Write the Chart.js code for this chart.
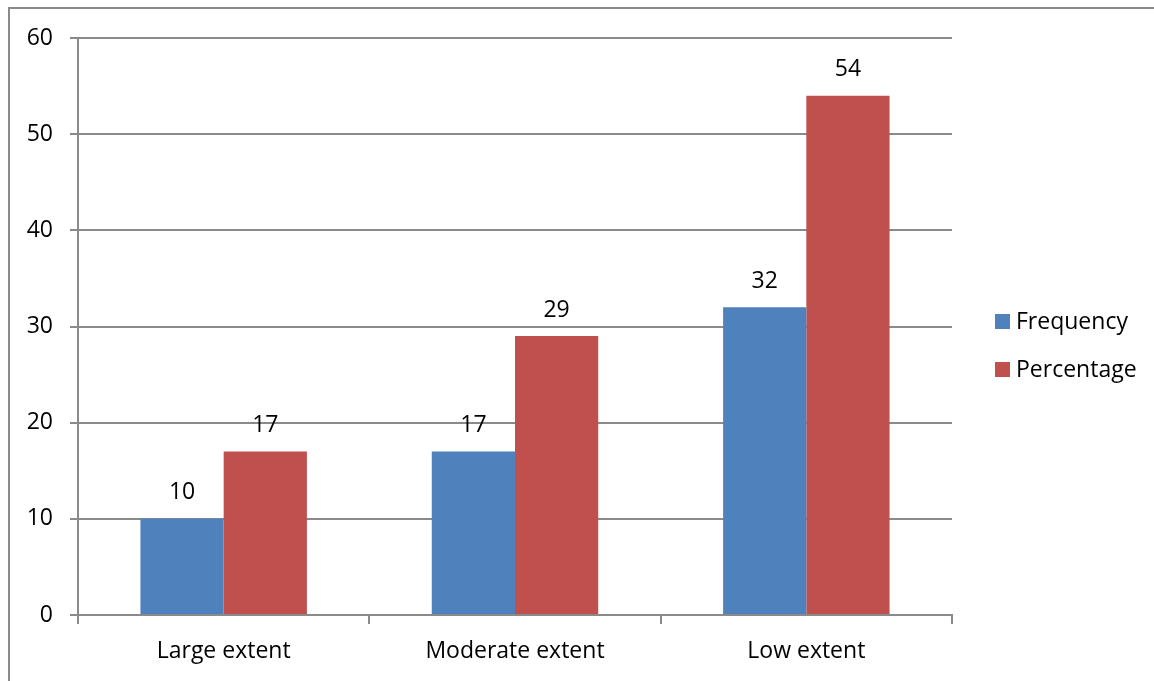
<!DOCTYPE html>
<html>
<head>
<meta charset="utf-8">
<script src="https://cdn.jsdelivr.net/npm/chart.js@4"></script>
<style>
html,body{margin:0;padding:0;background:#fff;}
#wrap{width:1154px;height:681px;position:relative;}
</style>
</head>
<body>
<div id="wrap"><canvas id="c" width="1154" height="681"></canvas></div>
<script>
const categories = ["Large extent", "Moderate extent", "Low extent"];
const seriesNames = ["Frequency", "Percentage"];
const frequency = [10, 17, 32];
const percentage = [17, 29, 54];
const yTicks = [0, 10, 20, 30, 40, 50, 60];
const colors = ["#4F81BD", "#C0504D"];

const FONT = "'Open Sans', 'Liberation Sans', sans-serif";
const FS = 23;

const frame = {
  id: 'frame',
  beforeDraw(chart) {
    const ctx = chart.ctx;
    ctx.save();
    ctx.fillStyle = '#fff';
    ctx.fillRect(0, 0, chart.width, chart.height);
    ctx.strokeStyle = '#8a8a8a';
    ctx.lineWidth = 2;
    ctx.beginPath();
    ctx.moveTo(9, chart.height);
    ctx.lineTo(9, 8);
    ctx.lineTo(chart.width, 8);
    ctx.stroke();
    ctx.restore();
  }
};

const valueLabels = {
  id: 'valueLabels',
  afterDatasetsDraw(chart) {
    const ctx = chart.ctx;
    ctx.save();
    ctx.font = FS + 'px ' + FONT;
    ctx.fillStyle = '#000';
    ctx.textAlign = 'center';
    ctx.textBaseline = 'middle';
    chart.data.datasets.forEach((ds, di) => {
      const meta = chart.getDatasetMeta(di);
      meta.data.forEach((bar, i) => {
        ctx.fillText(String(ds.data[i]), bar.x, bar.y - 26);
      });
    });
    ctx.restore();
  }
};

const customLegend = {
  id: 'customLegend',
  afterDraw(chart) {
    const ctx = chart.ctx;
    ctx.save();
    ctx.font = FS + 'px ' + FONT;
    ctx.textBaseline = 'middle';
    ctx.textAlign = 'left';
    const ys = [322, 370];
    chart.data.datasets.forEach((ds, di) => {
      const y = ys[di];
      ctx.fillStyle = ds.backgroundColor;
      ctx.fillRect(995, y - 8, 15, 15);
      ctx.fillStyle = '#000';
      ctx.fillText(ds.label, 1016, y);
    });
    ctx.restore();
  }
};

new Chart(document.getElementById('c'), {
  type: 'bar',
  data: {
    labels: categories,
    datasets: [
      { label: seriesNames[0], data: frequency, backgroundColor: colors[0] },
      { label: seriesNames[1], data: percentage, backgroundColor: colors[1] }
    ]
  },
  options: {
    responsive: false,
    animation: false,
    devicePixelRatio: 1,
    layout: { padding: { top: 38, right: 202, bottom: 0, left: 0 } },
    plugins: { legend: { display: false }, tooltip: { enabled: false } },
    datasets: { bar: { categoryPercentage: 0.5714, barPercentage: 1.0 } },
    scales: {
      x: {
        grid: { display: true, drawOnChartArea: false, offset: true, color: '#8a8a8a', lineWidth: 2, tickLength: 9 },
        border: { display: true, color: '#8a8a8a', width: 2 },
        ticks: { color: '#000', font: { family: FONT, size: FS }, padding: 14 },
        afterFit(scale) { scale.height = 66; }
      },
      y: {
        min: 0, max: 60,
        afterBuildTicks(scale) { scale.ticks = yTicks.map(v => ({ value: v })); },
        grid: { color: '#8a8a8a', lineWidth: 2, tickLength: 8 },
        border: { display: true, color: '#8a8a8a', width: 2 },
        ticks: { color: '#000', font: { family: FONT, size: FS }, padding: 17 },
        afterFit(scale) { scale.width = 78; }
      }
    }
  },
  plugins: [frame, valueLabels, customLegend]
});
</script>
</body>
</html>
